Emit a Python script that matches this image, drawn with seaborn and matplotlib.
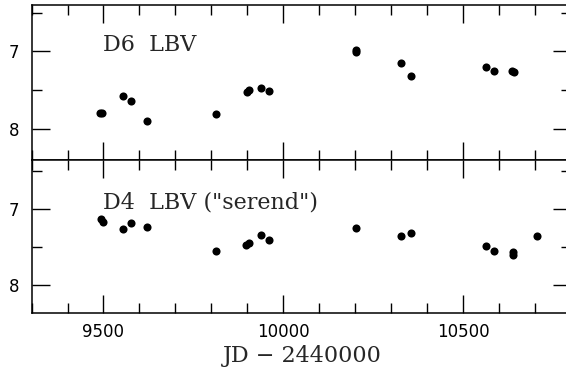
import matplotlib.pyplot as plt
import seaborn as sns
from matplotlib.ticker import MultipleLocator

jd_d6 = [9491, 9497, 9554, 9577, 9620, 9813, 9898, 9903, 9938, 9960,
         10201, 10202, 10326, 10354, 10562, 10585, 10635, 10640]
mag_d6 = [7.80, 7.79, 7.57, 7.64, 7.90, 7.81, 7.52, 7.50, 7.47, 7.51,
          6.98, 7.01, 7.15, 7.32, 7.20, 7.25, 7.25, 7.27]

jd_d4 = [9493, 9498, 9554, 9577, 9620, 9813, 9896, 9903, 9938, 9960,
         10201, 10326, 10354, 10562, 10585, 10637, 10639, 10704]
mag_d4 = [7.14, 7.17, 7.26, 7.19, 7.24, 7.55, 7.48, 7.45, 7.34, 7.41,
          7.25, 7.36, 7.32, 7.49, 7.55, 7.56, 7.61, 7.35]

labels = ['D6  LBV', 'D4  LBV ("serend")']

sns.set_style("ticks")
plt.rcParams['font.family'] = ['DejaVu Sans']

fig = plt.figure(figsize=(5.66, 3.72), dpi=100)
ax_top = fig.add_axes([0.0557, 0.5699, 0.9537, 0.4167])
ax_bot = fig.add_axes([0.0557, 0.1578, 0.9537, 0.4121], sharex=ax_top)

panels = [(ax_top, jd_d6, mag_d6, labels[0], (8.4, 6.4)),
          (ax_bot, jd_d4, mag_d4, labels[1], (8.37, 6.36))]

for ax, x, y, name, ylim in panels:
    sns.scatterplot(x=x, y=y, ax=ax, color='black', s=34, linewidth=0)
    ax.set_xlim(9300, 10800)
    ax.set_ylim(*ylim)
    ax.xaxis.set_major_locator(MultipleLocator(500))
    ax.xaxis.set_minor_locator(MultipleLocator(100))
    ax.yaxis.set_major_locator(MultipleLocator(1))
    ax.yaxis.set_minor_locator(MultipleLocator(0.5))
    ax.tick_params(which='both', direction='in', top=True, right=True,
                   width=1, colors='black')
    ax.tick_params(which='major', length=13)
    ax.tick_params(which='minor', length=7)
    ax.tick_params(axis='y', labelsize=12, pad=9)
    ax.tick_params(axis='x', labelsize=12, pad=7)
    for sp in ax.spines.values():
        sp.set_linewidth(1.1)
        sp.set_color('black')
    ax.text(9500, 7.0, name, family='DejaVu Serif', fontsize=16,
            ha='left', va='baseline')
    ax.set_xlabel('')
    ax.set_ylabel('')

ax_top.tick_params(axis='x', labelbottom=False)
ax_top.set_xticks([9500, 10000, 10500])
ax_bot.set_xticklabels(['9500', '10000', '10500'])

fig.text(0.535, 0.042, 'JD \u2212 2440000', family='DejaVu Serif',
         fontsize=16, ha='center', va='center')

fig.savefig('out.png', dpi=100)
